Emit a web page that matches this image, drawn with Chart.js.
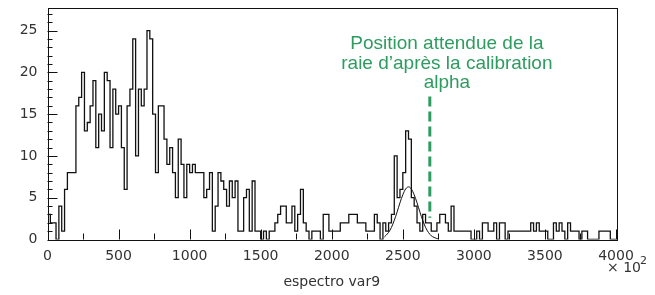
<!DOCTYPE html>
<html><head><meta charset="utf-8">
<script src="https://cdn.jsdelivr.net/npm/chart.js@4.4.1/dist/chart.umd.min.js"></script>
<style>html,body{margin:0;padding:0;background:#fff;}#wrap{width:655px;height:295px;}</style>
</head><body><div id="wrap"><canvas id="c" width="655" height="295"></canvas></div>
<script>
// ---- data ----
const binLow = 0;
const binWidth = 20;
const counts = [
3,3,2,2,0,4,1,6,8,8,
8,16,17,20,13,14,16,19,11,15,
13,20,19,11,18,15,16,11,6,16,
18,24,10,18,16,18,25,24,15,8,
16,16,12,9,11,8,5,12,9,5,
9,8,9,8,8,8,5,6,8,1,
4,8,7,6,4,7,5,7,1,1,
5,6,1,7,1,1,0,1,0,1,
1,2,3,4,4,2,2,4,1,3,
6,2,1,0,1,1,1,0,3,3,
1,1,1,1,2,2,2,3,3,3,
2,2,2,1,1,1,3,2,0,2,
1,2,3,10,5,6,8,13,12,5,
4,2,1,3,2,2,1,1,2,3,
3,2,1,4,1,1,1,1,1,1,
0,0,1,0,2,2,1,1,2,0,
2,2,0,1,1,1,1,1,1,1,
1,2,1,2,1,1,1,0,0,2,
1,2,1,0,2,1,1,1,0,1,
1,0,0,0,0,1,1,1,1,0
];
const fitX = [2370,2400,2420,2440,2460,2480,2500,2520,2540,2560,2580,2600,2620,2640,2660,2680,2700,2720,2750];
const fitY = [0.3,0.85,1.45,2.3,3.3,4.4,5.35,6.05,6.3,6.05,5.35,4.4,3.3,2.3,1.45,0.85,0.45,0.25,0.05];
const markerX = 2690;
const markerY = [17.1, 2.6];
const xMin = 0, xMax = 4000, yMin = 0, yMax = 27.7;
const xMajorStep = 500, xMinorStep = 250;
const yMajorStep = 5, yMinorStep = 1;
const xTitle = 'espectro var9';
const xExponent = '2';
const noteLines = ['Position attendue de la', 'raie d\u2019apr\u00e8s la calibration', 'alpha'];

// ---- build ----
const histPoints = counts.map((c, i) => ({x: binLow + i * binWidth, y: c}));
histPoints.push({x: binLow + counts.length * binWidth, y: counts[counts.length - 1]});
const fitPoints = fitX.map((x, i) => ({x, y: fitY[i]}));
const markerPoints = markerY.map(y => ({x: markerX, y}));

const green = '#2e9c60';
const tickFont = {family: 'DejaVu Sans', size: 14};

const rootFrame = {
  id: 'rootFrame',
  afterDatasetsDraw(chart) {
    const {ctx, chartArea: a, scales: {x, y}} = chart;
    ctx.save();
    ctx.strokeStyle = '#111';
    ctx.lineWidth = 1;
    ctx.beginPath();
    x.ticks.forEach(t => {
      const px = Math.round(x.getPixelForValue(t.value)) + 0.5;
      const len = t.value % xMajorStep === 0 ? 10 : 6;
      ctx.moveTo(px, a.bottom); ctx.lineTo(px, a.bottom - len);
    });
    y.ticks.forEach(t => {
      const py = Math.round(y.getPixelForValue(t.value)) + 0.5;
      const len = t.value % yMajorStep === 0 ? 10 : 5;
      ctx.moveTo(a.left, py); ctx.lineTo(a.left + len, py);
    });
    ctx.stroke();
    ctx.strokeRect(Math.round(a.left) + 0.5, Math.round(a.top) + 0.5,
                   Math.round(a.right - a.left), Math.round(a.bottom - a.top));
    // exponent
    ctx.fillStyle = '#333';
    ctx.textBaseline = 'middle';
    ctx.textAlign = 'left';
    ctx.font = '14px "DejaVu Sans"';
    ctx.fillText('\u00d7 10', a.right - 9, a.bottom + 29);
    ctx.font = '11px "DejaVu Sans"';
    ctx.fillText(xExponent, a.right + 24, a.bottom + 22);
    // note
    ctx.fillStyle = green;
    ctx.textAlign = 'center';
    ctx.font = '19px "Liberation Sans"';
    const cx = x.getPixelForValue(2810);
    const ny = y.getPixelForValue(23.4);
    noteLines.forEach((s, i) => ctx.fillText(s, cx, ny + i * 19.5));
    ctx.restore();
  }
};

new Chart(document.getElementById('c'), {
  type: 'line',
  data: {
    datasets: [
      {data: histPoints, stepped: 'after', borderColor: '#111', borderWidth: 1.3, pointRadius: 0, fill: false},
      {data: fitPoints, borderColor: '#111', borderWidth: 1, pointRadius: 0, fill: false, cubicInterpolationMode: 'monotone'},
      {data: markerPoints, borderColor: green, borderWidth: 3, borderDash: [10, 5], pointRadius: 0, fill: false}
    ]
  },
  options: {
    responsive: false,
    animation: false,
    devicePixelRatio: 1,
    layout: {padding: {top: 8, right: 39, left: 0, bottom: 0}},
    plugins: {legend: {display: false}, tooltip: {enabled: false}},
    scales: {
      x: {
        type: 'linear', min: xMin, max: xMax,
        afterBuildTicks: s => { const t = []; for (let v = xMin; v <= xMax; v += xMinorStep) t.push({value: v}); s.ticks = t; },
        afterFit: s => { s.height = 55.5; s.paddingLeft = 0; s.paddingRight = 0; },
        grid: {display: false, drawTicks: false},
        border: {display: false},
        ticks: {autoSkip: false, maxRotation: 0, padding: 8, color: '#333', font: tickFont,
                callback: v => v % xMajorStep === 0 ? String(v) : ''},
        title: {display: true, text: xTitle, color: '#333', font: tickFont, padding: {top: 0, bottom: 4}}
      },
      y: {
        type: 'linear', min: yMin, max: yMax,
        afterBuildTicks: s => { const t = []; for (let v = yMin; v <= yMax; v += yMinorStep) t.push({value: v}); s.ticks = t; },
        afterFit: s => { s.width = 47.5; s.paddingTop = 0; s.paddingBottom = 0; },
        grid: {display: false, drawTicks: false},
        border: {display: false},
        ticks: {autoSkip: false, padding: 10, color: '#333', font: tickFont,
                callback: v => v % yMajorStep === 0 ? String(v) : ''}
      }
    }
  },
  plugins: [rootFrame]
});
</script>
</body></html>
